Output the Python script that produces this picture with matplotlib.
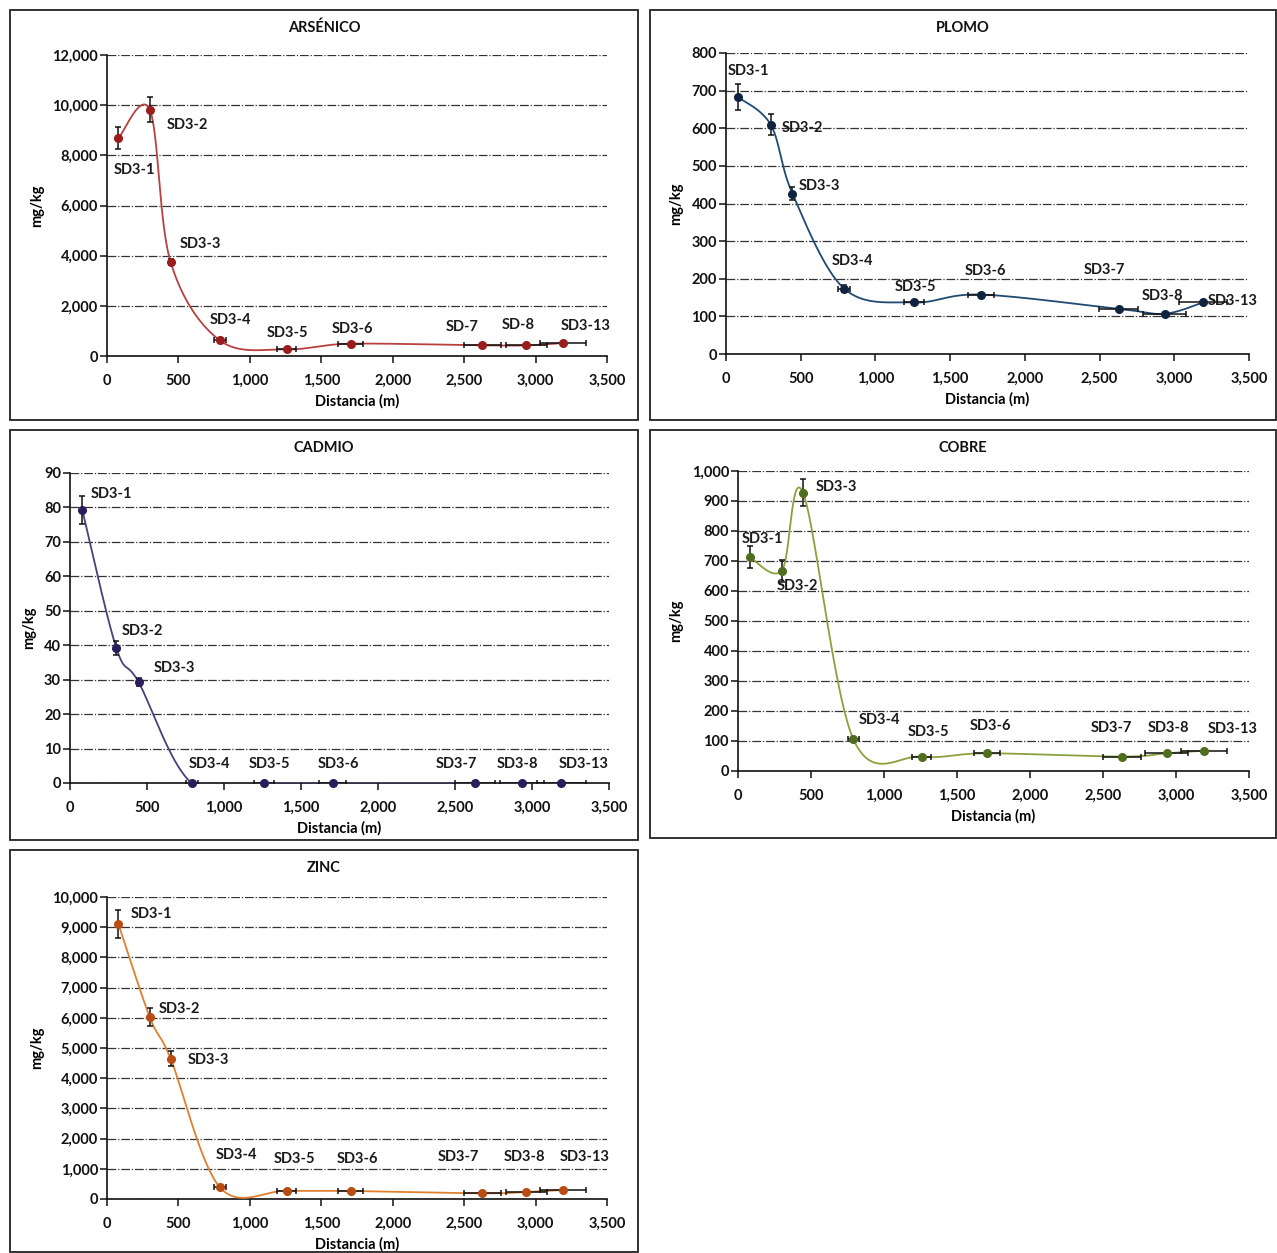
import numpy as np
import matplotlib
matplotlib.use("Agg")
import matplotlib.pyplot as plt
from matplotlib.patches import Rectangle
from matplotlib.ticker import FuncFormatter, MultipleLocator

plt.rcParams["font.family"] = ["Lato", "DejaVu Sans"]

# -------------------------
# Data
# -------------------------
stations = ["SD3-1", "SD3-2", "SD3-3", "SD3-4", "SD3-5", "SD3-6", "SD3-7", "SD3-8", "SD3-13"]
stations_as = ["SD3-1", "SD3-2", "SD3-3", "SD3-4", "SD3-5", "SD3-6", "SD-7", "SD-8", "SD3-13"]
distance = [80, 300, 445, 790, 1257, 1705, 2628, 2936, 3191]
distance_err = [0, 0, 0, 40, 65, 88, 130, 145, 160]

arsenico = [8685, 9812, 3752, 620, 265, 490, 424, 424, 517]
arsenico_err = [430, 500, 120, 80, 0, 0, 0, 0, 0]

plomo = [683, 609, 426, 174, 137, 158, 120, 107, 137]
plomo_err = [35, 28, 18, 10, 5, 5, 0, 0, 0]

cadmio = [79.2, 39.3, 29.3, 0, 0, 0, 0, 0, 0]
cadmio_err = [4, 2, 1.2, 0, 0, 0, 0, 0, 0]

cobre = [713, 668, 928, 106, 48, 59, 48, 59, 68]
cobre_err = [37, 37, 45, 5, 0, 0, 0, 0, 0]

zinc = [9103, 6013, 4651, 388, 277, 266, 188, 233, 299]
zinc_err = [470, 300, 250, 0, 0, 0, 0, 0, 0]

# label positions (data coords) for each panel
lab_as = [(189, 7416), (560, 9210), (651, 4465), (861, 1435), (1260, 917),
          (1715, 1076), (2485, 1156), (2877, 1236), (3353, 1196)]
lab_pb = [(147, 752), (509, 601), (622, 447), (843, 247), (1265, 178),
          (1733, 221), (2530, 223), (2924, 154), (3393, 141)]
lab_cd = [(266, 83.9), (468, 44.1), (675, 33.4), (903, 5.5), (1292, 5.5),
          (1740, 5.5), (2507, 5.5), (2903, 5.5), (3338, 5.5)]
lab_cu = [(164, 773), (404, 617), (671, 947), (966, 170), (1301, 130),
          (1726, 150), (2555, 143), (2945, 143), (3390, 140)]
lab_zn = [(308, 9437), (504, 6291), (707, 4602), (903, 1457), (1309, 1324),
          (1750, 1324), (2457, 1391), (2919, 1391), (3346, 1391)]

W, H = 1277, 1253
fig = plt.figure(figsize=(W / 100, H / 100), dpi=100)

# panel frames (pixels: x0, y0, x1, y1)
frames = [(10, 10, 638, 420), (650, 10, 1276, 420), (10, 430, 638, 840),
          (650, 430, 1276, 838), (10, 850, 638, 1252)]
for x0, y0, x1, y1 in frames:
    fig.patches.append(Rectangle((x0 / W, 1 - y1 / H), (x1 - x0) / W, (y1 - y0) / H,
                                 transform=fig.transFigure, fill=False,
                                 edgecolor="#222222", linewidth=1.3))


def smooth(x, y, sx, sy, n=40):
    # Excel-like smoothed line (Catmull-Rom bezier in screen-proportional space)
    p = np.column_stack([np.asarray(x, float) / sx, np.asarray(y, float) / sy])
    out = []
    t = np.linspace(0, 1, n)[:, None]
    for i in range(len(p) - 1):
        p0 = p[i - 1] if i > 0 else p[i]
        p1, p2 = p[i], p[i + 1]
        p3 = p[i + 2] if i + 2 < len(p) else p[i + 1]
        c1 = p1 + (p2 - p0) / 6
        c2 = p2 - (p3 - p1) / 6
        seg = (1 - t) ** 3 * p1 + 3 * (1 - t) ** 2 * t * c1 + 3 * (1 - t) * t ** 2 * c2 + t ** 3 * p2
        out.append(seg)
    out = np.vstack(out)
    return out[:, 0] * sx, out[:, 1] * sy


def panel(box, frame, title, vals, errs, ymax, ystep, names, labs, lcolor, mcolor):
    x0, ytop, x1, ybot = box
    ax = fig.add_axes([x0 / W, 1 - ybot / H, (x1 - x0) / W, (ybot - ytop) / H])
    ax.set_xlim(0, 3500)
    ax.set_ylim(0, ymax)
    for sp in ["top", "right"]:
        ax.spines[sp].set_visible(False)
    for sp in ["left", "bottom"]:
        ax.spines[sp].set_color("#111111")
        ax.spines[sp].set_linewidth(1.2)
    ax.xaxis.set_major_locator(MultipleLocator(500))
    ax.yaxis.set_major_locator(MultipleLocator(ystep))
    fmt = FuncFormatter(lambda v, p: f"{v:,.0f}")
    ax.xaxis.set_major_formatter(fmt)
    ax.yaxis.set_major_formatter(fmt)
    ax.tick_params(direction="out", length=5, width=1.1, color="#111111",
                   labelsize=10.5, labelcolor="#111111")
    ax.tick_params(axis="x", pad=8)
    ax.tick_params(axis="y", pad=1.5)
    for lb in ax.get_xticklabels() + ax.get_yticklabels():
        lb.set_fontweight("bold")
    ax.grid(axis="y", color="#333333", linewidth=0.9, linestyle=(0, (7, 1.5, 1, 1.5)))
    ax.set_axisbelow(True)
    sx = 3500 / (x1 - x0)
    sy = ymax / (ybot - ytop)
    xs, ys = smooth(distance, vals, sx, sy)
    ax.plot(xs, ys, color=lcolor, linewidth=1.3, zorder=3)
    ax.errorbar(distance, vals, yerr=errs, xerr=distance_err, fmt="none",
                ecolor="#111111", elinewidth=1.1, capsize=2.5, capthick=1.1, zorder=4)
    ax.plot(distance, vals, "o", color=mcolor, markersize=5.5, zorder=5, clip_on=False)
    for name, (tx, ty) in zip(names, labs):
        ax.text(tx, ty, name, ha="center", va="center", fontsize=10.5,
                fontweight="bold", color="#1a1a1a", zorder=6)
    fx0, fy0, fx1, fy1 = frame
    fig.text((fx0 + fx1) / 2 / W, 1 - (fy0 + 18) / H, title, ha="center", va="center",
             fontsize=10.5, fontweight="bold", color="#111111")
    ax.set_xlabel("Distancia (m)", fontsize=10.5, fontweight="bold", labelpad=4)
    ax.set_ylabel("mg/kg", fontsize=10.5, fontweight="bold", labelpad=6)
    return ax


panel((107, 55, 607, 356), frames[0], "ARSÉNICO", arsenico, arsenico_err, 12000, 2000,
      stations_as, lab_as, "#b8413f", "#9a1c1c")
panel((726, 53, 1249, 354), frames[1], "PLOMO", plomo, plomo_err, 800, 100,
      stations, lab_pb, "#1f4a72", "#0f2440")
panel((70, 473, 609, 783), frames[2], "CADMIO", cadmio, cadmio_err, 90, 10,
      stations, lab_cd, "#45437a", "#2a1d5c")
panel((738, 471, 1249, 771), frames[3], "COBRE", cobre, cobre_err, 1000, 100,
      stations, lab_cu, "#8aa23c", "#4f6d1e")
panel((107, 897, 607, 1199), frames[4], "ZINC", zinc, zinc_err, 10000, 1000,
      stations, lab_zn, "#dd8030", "#b84c12")

fig.savefig("out.png", dpi=100, facecolor="white")
